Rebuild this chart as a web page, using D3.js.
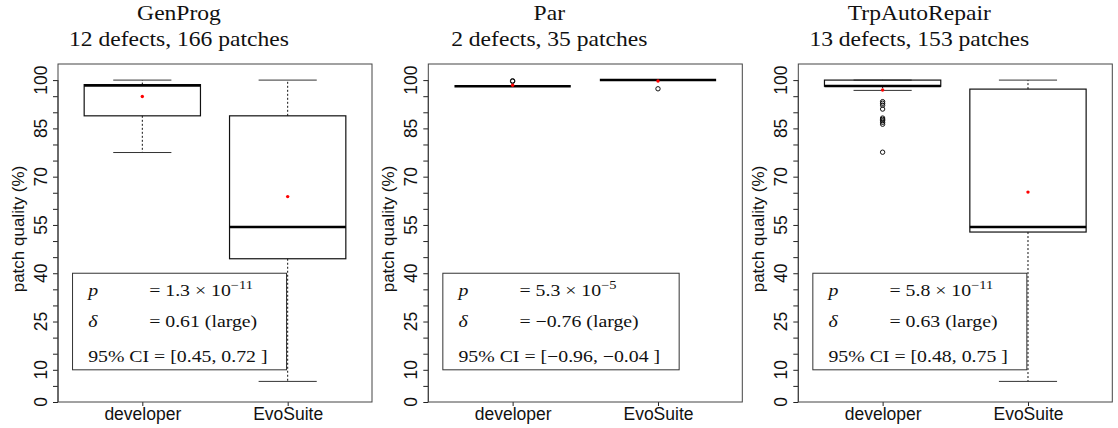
<!DOCTYPE html>
<html><head><meta charset="utf-8">
<script src="https://cdn.jsdelivr.net/npm/d3@7"></script>
<style>body{margin:0;background:#fff} svg{display:block}</style>
</head><body><svg id="c" width="1118" height="428"></svg>
<script>
// ---------- data ----------
const tools = ["GenProg", "Par", "TrpAutoRepair"];
const subtitles = ["12 defects, 166 patches", "2 defects, 35 patches", "13 defects, 153 patches"];
const categories = ["developer", "EvoSuite"];
// [lower whisker, Q1, median, Q3, upper whisker] per category
const genprogStats = [[77.5, 88.9, 98.3, 98.6, 100], [6.4, 44.5, 54.4, 88.9, 100]];
const parStats     = [[98.1, 98.1, 98.1, 98.1, 98.1], [100, 100, 100, 100, 100]];
const trpStats     = [[96.8, 98.1, 98.2, 100, 100], [6.4, 52.8, 54.4, 97.2, 100]];
const genprogMeans = [94.9, 63.8];
const parMeans     = [98.4, 99.7];
const trpMeans     = [96.9, 65.2];
const genprogOutliers = [[], []];
const parOutliers     = [[99.6, 99.8], [97.3]];
const trpOutliers     = [[93.3, 92.8, 92.2, 91.0, 88.2, 87.8, 87.4, 86.9, 86.3, 77.6], []];
const pMantissa = ["1.3", "5.3", "5.8"];
const pExponent = [-11, -5, -11];
const deltaValues = [0.61, -0.76, 0.63];
const deltaMagnitude = ["large", "large", "large"];
const ciLow = [0.45, -0.96, 0.48];
const ciHigh = [0.72, -0.04, 0.75];
const yTicks = d3.range(0, 101, 5);
const yTickLabels = [0, 10, 25, 40, 55, 70, 85, 100];

const panelStats = [genprogStats, parStats, trpStats];
const panelMeans = [genprogMeans, parMeans, trpMeans];
const panelOutliers = [genprogOutliers, parOutliers, trpOutliers];

// ---------- layout ----------
const svg = d3.select("#c");
const panelLeft = [58, 428.3, 798.3];
const plotW = 314, plotTop = 64, plotBottom = 402;
const sans = "'Liberation Sans', Arial, Helvetica, sans-serif";
const serif = "'Liberation Serif', 'Times New Roman', serif";
const titleScaleX = 1.15, statScaleX = 1.2;
const fmt = v => (v < 0 ? "\u2212" : "") + Math.abs(v).toFixed(2);

tools.forEach((tool, i) => {
  const L = panelLeft[i];
  const x = d3.scaleLinear().domain([0.42, 2.58]).range([L, L + plotW]);
  const y = d3.scaleLinear().domain([0, 105]).range([plotBottom, plotTop]);
  const g = svg.append("g");

  // titles
  const tcx = L + 121;
  [[tool, 20], [subtitles[i], 46]].forEach(([t, by]) => {
    g.append("text").attr("transform", `translate(${tcx},${by}) scale(${titleScaleX},1)`)
      .attr("text-anchor", "middle").attr("font-family", serif).attr("font-size", 20.5)
      .attr("fill", "#111").text(t);
  });

  // y axis
  const ya = g.append("g").attr("transform", `translate(${L},0)`)
    .call(d3.axisLeft(y).tickValues(yTicks).tickSize(5).tickSizeOuter(0).tickFormat(""));
  ya.select(".domain").attr("d", `M0,${y(0)}V${y(100)}`).attr("stroke", "#222");
  ya.selectAll(".tick line").attr("stroke", "#222");
  yTickLabels.forEach(v => {
    g.append("text").attr("transform", `translate(${L - 11.5},${y(v)}) rotate(-90)`)
      .attr("text-anchor", "middle").attr("font-family", sans).attr("font-size", 17.5)
      .attr("fill", "#111").text(v);
  });
  g.append("text").attr("transform", `translate(${L - 34},${(plotTop + plotBottom) / 2 - 4}) rotate(-90)`)
    .attr("text-anchor", "middle").attr("font-family", sans).attr("font-size", 17)
    .attr("fill", "#111").text("patch quality (%)");

  // x axis
  const xa = g.append("g").attr("transform", `translate(0,${plotBottom})`)
    .call(d3.axisBottom(x).tickValues([1, 2]).tickSize(4).tickSizeOuter(0)
      .tickFormat(d => categories[d - 1]));
  xa.select(".domain").remove();
  xa.selectAll(".tick line").attr("stroke", "#222");
  xa.selectAll(".tick text").attr("y", 18).attr("dy", 0).attr("font-family", sans)
    .attr("font-size", 17.5).attr("fill", "#111");

  // frame
  g.append("rect").attr("x", L).attr("y", plotTop).attr("width", plotW)
    .attr("height", plotBottom - plotTop).attr("fill", "none").attr("stroke", "#444").attr("stroke-width", 1);

  // boxes
  categories.forEach((c, j) => {
    const s = panelStats[i][j];
    const cx = x(j + 1), hw = x(j + 1.4) - cx, cw = x(j + 1.2) - cx;
    const bg = g.append("g");
    bg.append("line").attr("x1", cx).attr("x2", cx).attr("y1", y(s[3])).attr("y2", y(s[4]))
      .attr("stroke", "#111").attr("stroke-dasharray", "2,2");
    bg.append("line").attr("x1", cx).attr("x2", cx).attr("y1", y(s[1])).attr("y2", y(s[0]))
      .attr("stroke", "#111").attr("stroke-dasharray", "2,2");
    [s[0], s[4]].forEach(v => bg.append("line").attr("x1", cx - cw).attr("x2", cx + cw)
      .attr("y1", y(v)).attr("y2", y(v)).attr("stroke", "#333").attr("stroke-width", 1));
    bg.append("rect").attr("x", cx - hw).attr("width", 2 * hw).attr("y", y(s[3]))
      .attr("height", y(s[1]) - y(s[3])).attr("fill", "none").attr("stroke", "#111").attr("stroke-width", 1.2);
    bg.append("line").attr("x1", cx - hw).attr("x2", cx + hw).attr("y1", y(s[2])).attr("y2", y(s[2]))
      .attr("stroke", "#000").attr("stroke-width", 2.5);
    panelOutliers[i][j].forEach(v => bg.append("circle").attr("cx", cx).attr("cy", y(v)).attr("r", 2.2)
      .attr("fill", "none").attr("stroke", "#111").attr("stroke-width", 1));
    bg.append("circle").attr("cx", cx).attr("cy", y(panelMeans[i][j])).attr("r", 1.7).attr("fill", "#ff0000");
  });

  // statistics box
  const bx = x(0.52), byTop = y(40), byBot = y(10);
  const tg = g.append("g").attr("transform", `translate(${bx + 15.6},${byTop}) scale(${statScaleX},1)`)
    .attr("font-family", serif).attr("font-size", 16.5).attr("fill", "#111");
  const col2 = 61 / statScaleX;
  tg.append("text").attr("x", 0).attr("y", 22.5).attr("font-style", "italic").text("p");
  const t1 = tg.append("text").attr("x", col2).attr("y", 22.5);
  t1.append("tspan").text(`= ${pMantissa[i]} \u00d7 10`);
  t1.append("tspan").attr("dy", -7).attr("font-size", 12).text(String(pExponent[i]).replace("-", "\u2212"));
  tg.append("text").attr("x", 0).attr("y", 54).attr("font-style", "italic").text("\u03b4");
  tg.append("text").attr("x", col2).attr("y", 54).text(`= ${fmt(deltaValues[i])} (${deltaMagnitude[i]})`);
  tg.append("text").attr("x", 0).attr("y", 88.5).text(`95% CI = [${fmt(ciLow[i])}, ${fmt(ciHigh[i])} ]`);
  let maxW = 0;
  tg.selectAll("text").each(function () {
    const b = this.getBBox(); maxW = Math.max(maxW, b.x + b.width);
  });
  g.append("rect").attr("x", bx).attr("y", byTop).attr("width", 15.6 + maxW * statScaleX + 19)
    .attr("height", byBot - byTop).attr("fill", "none").attr("stroke", "#333").attr("stroke-width", 1);
});
</script></body></html>
